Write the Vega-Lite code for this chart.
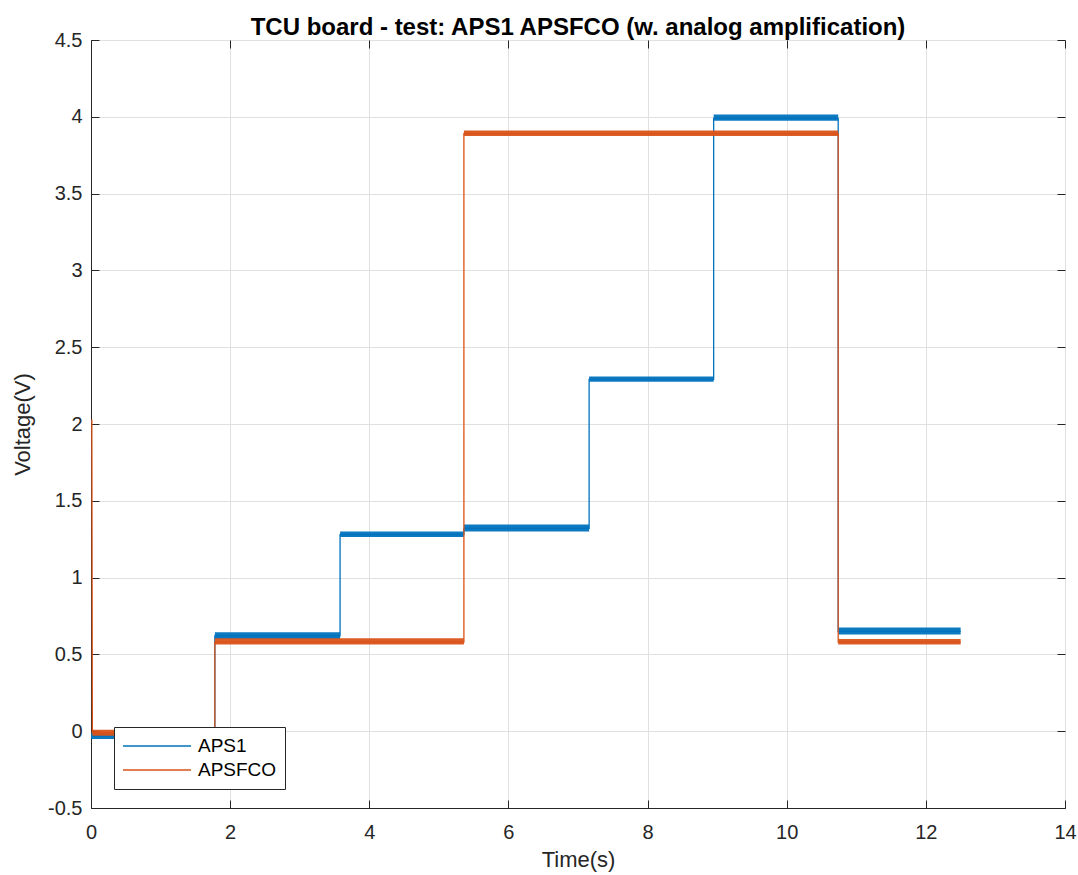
{
  "$schema": "https://vega.github.io/schema/vega-lite/v6.json",
  "width": 974,
  "height": 768,
  "autosize": {"type": "none"},
  "padding": {"left": 91, "top": 40, "right": 13, "bottom": 67},
  "background": "white",
  "title": {
    "text": "TCU board - test: APS1 APSFCO (w. analog amplification)",
    "font": "Liberation Sans",
    "fontSize": 24,
    "fontWeight": "bold",
    "color": "black",
    "anchor": "middle",
    "offset": -10
  },
  "datasets": {
    "lines": [
      {"i": 0, "series": "APS1", "t": 0, "v": -0.03},
      {"i": 1, "series": "APS1", "t": 1.78, "v": -0.03},
      {"i": 2, "series": "APS1", "t": 1.78, "v": 0.62},
      {"i": 3, "series": "APS1", "t": 3.58, "v": 0.62},
      {"i": 4, "series": "APS1", "t": 3.58, "v": 1.28},
      {"i": 5, "series": "APS1", "t": 5.36, "v": 1.28},
      {"i": 6, "series": "APS1", "t": 5.36, "v": 1.32},
      {"i": 7, "series": "APS1", "t": 7.16, "v": 1.32},
      {"i": 8, "series": "APS1", "t": 7.16, "v": 2.29},
      {"i": 9, "series": "APS1", "t": 8.95, "v": 2.29},
      {"i": 10, "series": "APS1", "t": 8.95, "v": 3.99},
      {"i": 11, "series": "APS1", "t": 10.74, "v": 3.99},
      {"i": 12, "series": "APS1", "t": 10.74, "v": 0.65},
      {"i": 13, "series": "APS1", "t": 12.5, "v": 0.65},
      {"i": 0, "series": "APSFCO", "t": 0.012, "v": 2.03},
      {"i": 1, "series": "APSFCO", "t": 0.02, "v": -0.01},
      {"i": 2, "series": "APSFCO", "t": 1.78, "v": -0.01},
      {"i": 3, "series": "APSFCO", "t": 1.78, "v": 0.58},
      {"i": 4, "series": "APSFCO", "t": 5.36, "v": 0.58},
      {"i": 5, "series": "APSFCO", "t": 5.36, "v": 3.89},
      {"i": 6, "series": "APSFCO", "t": 10.74, "v": 3.89},
      {"i": 7, "series": "APSFCO", "t": 10.74, "v": 0.58},
      {"i": 8, "series": "APSFCO", "t": 12.5, "v": 0.58}
    ],
    "bands": [
      {"series": "APS1", "t0": 0.0, "t1": 1.78, "lo": -0.05, "hi": -0.01},
      {"series": "APS1", "t0": 1.78, "t1": 3.58, "lo": 0.6, "hi": 0.645},
      {"series": "APS1", "t0": 3.58, "t1": 5.36, "lo": 1.265, "hi": 1.3},
      {"series": "APS1", "t0": 5.36, "t1": 7.16, "lo": 1.3, "hi": 1.345},
      {"series": "APS1", "t0": 7.16, "t1": 8.95, "lo": 2.275, "hi": 2.31},
      {"series": "APS1", "t0": 8.95, "t1": 10.74, "lo": 3.975, "hi": 4.015},
      {"series": "APS1", "t0": 10.74, "t1": 12.5, "lo": 0.63, "hi": 0.675},
      {"series": "APSFCO", "t0": 0.02, "t1": 1.78, "lo": -0.03, "hi": 0.01},
      {"series": "APSFCO", "t0": 1.78, "t1": 5.36, "lo": 0.565, "hi": 0.605},
      {"series": "APSFCO", "t0": 5.36, "t1": 10.74, "lo": 3.875, "hi": 3.91},
      {"series": "APSFCO", "t0": 10.74, "t1": 12.5, "lo": 0.565, "hi": 0.6}
    ]
  },
  "resolve": {"axis": {"x": "independent", "y": "independent"}},
  "layer": [
    {
      "data": {"name": "bands"},
      "transform": [{"filter": "datum.series === 'APS1'"}],
      "mark": {"type": "rect", "color": "#0072BD", "opacity": 0.95},
      "encoding": {
        "x": {"field": "t0", "type": "quantitative", "scale": {"domain": [0, 14], "nice": false},
          "axis": {"orient": "bottom", "title": "Time(s)", "values": [0, 2, 4, 6, 8, 10, 12, 14], "ticks": false, "labelExpr": "'' + datum.value", "labelPadding": 14, "titlePadding": 7}},
        "x2": {"field": "t1"},
        "y": {"field": "lo", "type": "quantitative", "scale": {"domain": [-0.5, 4.5], "nice": false},
          "axis": {"orient": "left", "title": "Voltage(V)", "values": [-0.5, 0, 0.5, 1, 1.5, 2, 2.5, 3, 3.5, 4, 4.5], "ticks": false, "labelExpr": "'' + datum.value", "labelPadding": 9, "titlePadding": 13}},
        "y2": {"field": "hi"}
      }
    },
    {
      "data": {"name": "lines"},
      "transform": [{"filter": "datum.series === 'APS1'"}],
      "mark": {"type": "line", "strokeWidth": 1.3, "clip": true},
      "encoding": {
        "x": {"field": "t", "type": "quantitative",
          "axis": {"orient": "bottom", "offset": -8, "tickSize": 8, "domain": false, "labels": false, "grid": false, "title": null, "values": [0, 2, 4, 6, 8, 10, 12, 14]}},
        "y": {"field": "v", "type": "quantitative",
          "axis": {"orient": "left", "offset": -8, "tickSize": 8, "domain": false, "labels": false, "grid": false, "title": null, "values": [-0.5, 0, 0.5, 1, 1.5, 2, 2.5, 3, 3.5, 4, 4.5]}},
        "order": {"field": "i", "type": "quantitative"},
        "color": {"field": "series", "type": "nominal", "scale": {"domain": ["APS1", "APSFCO"], "range": ["#0072BD", "#D95319"]}, "legend": {"title": null}}
      }
    },
    {
      "data": {"name": "bands"},
      "transform": [{"filter": "datum.series === 'APSFCO'"}],
      "mark": {"type": "rect", "color": "#D95319", "opacity": 0.95},
      "encoding": {
        "x": {"field": "t0", "type": "quantitative",
          "axis": {"orient": "top", "offset": -8, "tickSize": 8, "domain": false, "labels": false, "grid": false, "title": null, "values": [0, 2, 4, 6, 8, 10, 12, 14]}},
        "x2": {"field": "t1"},
        "y": {"field": "lo", "type": "quantitative",
          "axis": {"orient": "right", "offset": -8, "tickSize": 8, "domain": false, "labels": false, "grid": false, "title": null, "values": [-0.5, 0, 0.5, 1, 1.5, 2, 2.5, 3, 3.5, 4, 4.5]}},
        "y2": {"field": "hi"}
      }
    },
    {
      "data": {"name": "lines"},
      "transform": [{"filter": "datum.series === 'APSFCO'"}],
      "mark": {"type": "line", "strokeWidth": 1.3, "clip": true},
      "encoding": {
        "x": {"field": "t", "type": "quantitative", "axis": null},
        "y": {"field": "v", "type": "quantitative", "axis": null},
        "order": {"field": "i", "type": "quantitative"},
        "color": {"field": "series", "type": "nominal"}
      }
    }
  ],
  "config": {
    "view": {"stroke": "#262626", "strokeWidth": 1},
    "axis": {
      "labelFont": "Liberation Sans",
      "titleFont": "Liberation Sans",
      "labelFontSize": 20,
      "titleFontSize": 22,
      "labelColor": "#262626",
      "titleColor": "#262626",
      "titleFontWeight": "normal",
      "domainColor": "#262626",
      "tickColor": "#262626",
      "gridColor": "#e0e0e0",
      "gridWidth": 1,
      "labelFlush": false,
      "labelOverlap": false
    },
    "legend": {
      "orient": "none",
      "legendX": 23,
      "legendY": 687,
      "symbolType": "stroke",
      "symbolSize": 4624,
      "symbolStrokeWidth": 1.3,
      "clipHeight": 22,
      "labelFont": "Liberation Sans",
      "labelFontSize": 19,
      "labelColor": "black",
      "labelOffset": 6,
      "strokeColor": "#262626",
      "fillColor": "white",
      "padding": 8,
      "rowPadding": 2
    }
  }
}
